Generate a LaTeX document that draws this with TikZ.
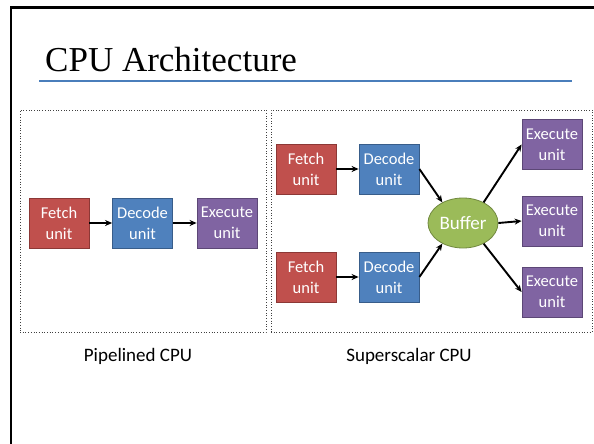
\documentclass[tikz,border=0pt]{standalone}
\usepackage{fontspec}
\setmainfont{Carlito}
\newfontfamily\titlefont{Liberation Serif}
\usetikzlibrary{arrows.meta,shapes.geometric}
\definecolor{fetchfill}{HTML}{C0504D}
\definecolor{fetchline}{HTML}{8C3836}
\definecolor{decfill}{HTML}{4F81BD}
\definecolor{decline}{HTML}{385D8A}
\definecolor{exefill}{HTML}{8064A2}
\definecolor{exeline}{HTML}{5C4776}
\definecolor{buffill}{HTML}{9BBB59}
\definecolor{bufline}{HTML}{71893F}
\definecolor{titleline}{HTML}{4A7EBB}
\tikzset{
  unitbox/.style={draw, line width=0.8pt, minimum width=60pt, minimum height=50pt,
    inner sep=1pt, align=center, text=white, font=\fontsize{16.5}{21}\selectfont},
  fetchbox/.style={unitbox, fill=fetchfill, draw=fetchline},
  decbox/.style={unitbox, fill=decfill, draw=decline},
  exebox/.style={unitbox, fill=exefill, draw=exeline},
  bufnode/.style={ellipse, draw=bufline, fill=buffill, line width=0.8pt, minimum width=70pt,
    minimum height=50pt, inner sep=0pt, text=white, font=\fontsize{19}{22}\selectfont},
  conn/.style={line width=1.9pt, -{Stealth[length=7pt,width=6pt]}},
  panel/.style={draw=black!75, dotted, line width=0.7pt},
  caption/.style={font=\fontsize{19}{22}\selectfont, text=black}
}
\begin{document}
\begin{tikzpicture}[x=1pt,y=-1pt]
\useasboundingbox (0,0) rectangle (594,444);
\fill[white] (0,0) rectangle (594,444);
% slide frame
\draw[line width=3pt, black] (10,8) -- (594,8);
\draw[line width=2.5pt, black] (11,7) -- (11,444);
% title
\node[anchor=base west, inner sep=0pt, font=\titlefont\fontsize{35}{40}\selectfont] (title) at (45,71) {CPU Architecture};
\draw[titleline, line width=1.3pt] (39,81) -- (572,81);
% panels
\node[panel, minimum width=246pt, minimum height=222pt, inner sep=0pt] (lpanel) at (143,221) {};
\node[panel, minimum width=321pt, minimum height=222pt, inner sep=0pt] (rpanel) at (431.5,221) {};
% pipelined
\node[fetchbox] (pf) at (59,223) {Fetch\\unit};
\node[decbox] (pd) at (142.5,223) {Decode\\unit};
\node[exebox] (pe) at (227,223) {Execute\\unit};
\draw[conn] (pf) -- (pd);
\draw[conn] (pd) -- (pe);
% superscalar
\node[fetchbox] (f1) at (306,169) {Fetch\\unit};
\node[decbox] (d1) at (389,169) {Decode\\unit};
\node[fetchbox] (f2) at (306,277) {Fetch\\unit};
\node[decbox] (d2) at (389,277) {Decode\\unit};
\node[bufnode] (buf) at (463,223) {Buffer};
\node[exebox] (e1) at (552,144.5) {Execute\\unit};
\node[exebox] (e2) at (552,221) {Execute\\unit};
\node[exebox] (e3) at (552,292) {Execute\\unit};
\draw[conn] (f1) -- (d1);
\draw[conn] (f2) -- (d2);
\draw[conn] (d1.east) -- (buf.135);
\draw[conn] (d2.east) -- (buf.225);
\draw[conn] (buf.45) -- (e1.west);
\draw[conn] (buf.east) -- (e2.west);
\draw[conn] (buf.-45) -- (e3.west);
% captions
\node[caption] (lcap) at (138,356) {Pipelined CPU};
\node[caption] (rcap) at (409,356) {Superscalar CPU};
\end{tikzpicture}
\end{document}
